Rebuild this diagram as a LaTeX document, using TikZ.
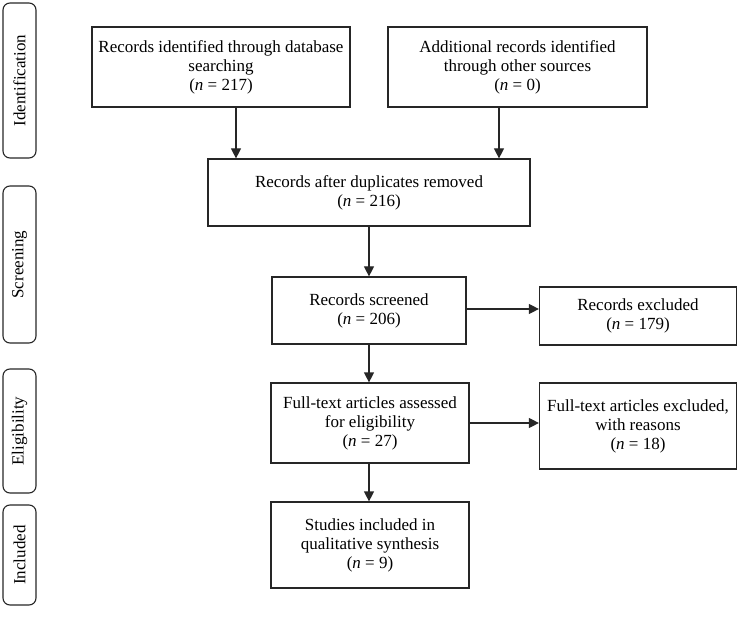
\documentclass[tikz,border=0pt]{standalone}
\usepackage{fontspec}
\setmainfont{Liberation Serif}
\usetikzlibrary{arrows.meta}
\begin{document}
\begin{tikzpicture}[x=1pt,y=-1pt,
  box/.style={draw=black!85,line width=1.2pt,align=center,inner sep=0pt,
    font=\fontsize{17}{19}\selectfont},
  side/.style={draw=black!85,line width=1.1pt,rounded corners=7pt,inner sep=0pt,
    minimum width=33pt},
  sidetext/.style={rotate=90,font=\fontsize{17}{19}\selectfont},
  arr/.style={draw=black!85,line width=1.2pt,-{Triangle[length=10pt,width=10pt]}}]
\useasboundingbox (0,0) rectangle (739,620);
% side labels
\node[side,minimum height=155pt] (sid) at (19.5,80.5) {};
\node[sidetext] at (sid.center) {Identification};
\node[side,minimum height=157pt] (ssc) at (19.5,264.5) {};
\node[sidetext] at (ssc.center) {Screening};
\node[side,minimum height=124pt] (sel) at (19.5,431) {};
\node[sidetext] at (sel.center) {Eligibility};
\node[side,minimum height=100pt] (sin) at (19.5,555) {};
\node[sidetext] at (sin.center) {Included};
% boxes
\node[box,minimum width=258pt,minimum height=80pt] (b1) at (221,67)
  {Records identified through database\\searching\\(\textit{n} = 217)};
\node[box,minimum width=259pt,minimum height=80pt] (b2) at (517.5,67)
  {Additional records identified\\through other sources\\(\textit{n} = 0)};
\node[box,minimum width=322pt,minimum height=67pt] (b3) at (369,192.5)
  {Records after duplicates removed\\(\textit{n} = 216)};
\node[box,minimum width=194pt,minimum height=67pt] (b4) at (369,310.5)
  {Records screened\\(\textit{n} = 206)};
\node[box,minimum width=197pt,minimum height=58pt] (b5) at (638,316)
  {Records excluded\\(\textit{n} = 179)};
\node[box,minimum width=198pt,minimum height=80pt] (b6) at (370,423)
  {Full-text articles assessed\\for eligibility\\(\textit{n} = 27)};
\node[box,minimum width=197pt,minimum height=86pt] (b7) at (638,426)
  {Full-text articles excluded,\\with reasons\\(\textit{n} = 18)};
\node[box,minimum width=198pt,minimum height=86pt] (b8) at (370,545)
  {Studies included in\\qualitative synthesis\\(\textit{n} = 9)};
% connectors
\coordinate (c1) at (236,0);
\coordinate (c2) at (499,0);
\coordinate (c3) at (369,0);
\coordinate (r1) at (0,309);
\coordinate (r2) at (0,423);
\draw[arr] (b1.south -| c1) -- (b3.north -| c1);
\draw[arr] (b2.south -| c2) -- (b3.north -| c2);
\draw[arr] (b3.south -| c3) -- (b4.north -| c3);
\draw[arr] (b4.east |- r1) -- (b5.west |- r1);
\draw[arr] (b4.south -| c3) -- (b6.north -| c3);
\draw[arr] (b6.east |- r2) -- (b7.west |- r2);
\draw[arr] (b6.south -| c3) -- (b8.north -| c3);
\end{tikzpicture}
\end{document}
